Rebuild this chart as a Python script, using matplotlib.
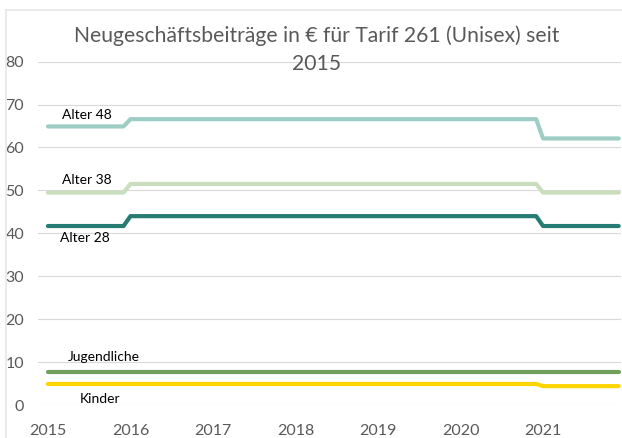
import numpy as np
import matplotlib
matplotlib.use("Agg")
import matplotlib.pyplot as plt
from matplotlib.lines import Line2D

plt.rcParams['font.family'] = ['Lato', 'DejaVu Sans']

# Jahresbeiträge 2015-2021 (Monatswerte je Jahr gleich)
years = ['2015', '2016', '2017', '2018', '2019', '2020', '2021']
alter48 = [64.9, 66.6, 66.6, 66.6, 66.6, 66.6, 62.1]
alter38 = [49.5, 51.5, 51.5, 51.5, 51.5, 51.5, 49.5]
alter28 = [41.7, 44.0, 44.0, 44.0, 44.0, 44.0, 41.7]
jugendliche = [7.6, 7.6, 7.6, 7.6, 7.6, 7.6, 7.6]
kinder = [4.9, 4.9, 4.9, 4.9, 4.9, 4.9, 4.4]

series = [
    ('Alter 48', alter48, '#9ECDC6', (2.0, 67.6)),
    ('Alter 38', alter38, '#C9DEBD', (2.0, 52.4)),
    ('Alter 28', alter28, '#267B73', (1.7, 39.0)),
    ('Jugendliche', jugendliche, '#70A15C', (2.9, 11.3)),
    ('Kinder', kinder, '#FFD500', (4.6, 1.5)),
]

months = np.arange(len(years) * 12)

fig = plt.figure(figsize=(6.22, 4.38), dpi=100)
# dezenter Diagrammrahmen (links/oben)
fig.lines.append(Line2D([0.010, 0.010], [0.0, 0.977], transform=fig.transFigure,
                        color='#E6E6E6', linewidth=1.2))
fig.lines.append(Line2D([0.010, 1.0], [0.977, 0.977], transform=fig.transFigure,
                        color='#E6E6E6', linewidth=1.2))
ax = fig.add_axes([0.061, 0.0753, 0.937, 0.784])

for name, vals, color, (lx, ly) in series:
    ax.plot(months, np.repeat(vals, 12), color=color, linewidth=3,
            solid_capstyle='round', solid_joinstyle='round')
    ax.text(lx, ly, name, fontsize=10, color='black', va='center', ha='left')

ax.set_ylim(0, 80)
ax.set_xlim(-1.45, 83.3)
ax.set_yticks(range(0, 81, 10))
ax.set_xticks(np.arange(len(years)) * 12)
ax.set_xticklabels(years)
ax.grid(axis='y', color='#D9D9D9', linewidth=0.8)
ax.set_axisbelow(True)
for s in ax.spines.values():
    s.set_visible(False)
ax.tick_params(length=0, labelsize=11.5, colors='#595959', pad=14)
ax.tick_params(axis='y', pad=10)

fig.text(0.509, 0.918, 'Neugeschäftsbeiträge in € für Tarif 261 (Unisex) seit',
         ha='center', va='center', fontsize=15.2, color='#595959')
fig.text(0.509, 0.853, '2015', ha='center', va='center', fontsize=15.2, color='#595959')

plt.savefig('out.png', dpi=100)
